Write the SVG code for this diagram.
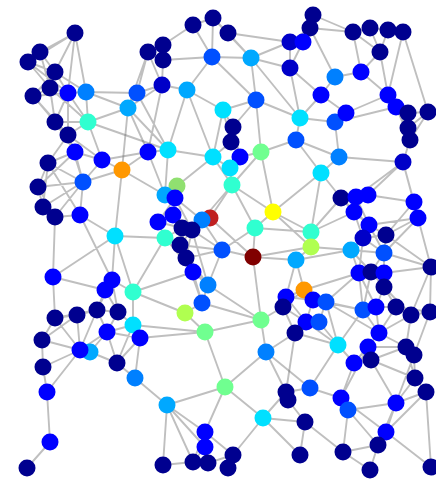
<svg xmlns="http://www.w3.org/2000/svg" width="436" height="482" viewBox="0 0 436 482">
<style>
.e{fill:none;stroke:#666666;stroke-opacity:0.42;stroke-width:1.9;stroke-linecap:round}
circle{r:8.5}
.k0{fill:#00008f}.k1{fill:#0000c8}.k2{fill:#0000ff}.k3{fill:#0050ff}.k4{fill:#0080ff}.k5{fill:#00a8ff}.k6{fill:#00e0ff}.k7{fill:#30ffd0}.k8{fill:#70ff90}.k9{fill:#b0ff50}.ky{fill:#ffff00}.ko{fill:#ff9800}.kr{fill:#800000}.kx{fill:#c02020}.kg{fill:#90e070}
</style>
<rect width="436" height="482" fill="#ffffff"/>
<g id="connectors" class="e">
<path d="M75 33L40 52M75 33L55 72M75 33L68 93M75 33L86 92M40 52L28 62M40 52L55 72M28 62L55 72M28 62L50 88M55 72L50 88M55 72L68 93M50 88L33 96M50 88L68 93M33 96L68 93M68 93L86 92M33 96L55 122M50 88L55 122M68 93L55 122M86 92L88 122M68 93L88 122M55 122L68 135M88 122L68 135M55 122L88 122M68 135L75 152M68 135L48 163M75 152L48 163M75 152L102 160M88 122L102 160M86 92L137 93M86 92L128 108M88 122L128 108M88 122L168 150M75 152L83 182M48 163L38 187M48 163L83 182M38 187L43 207M43 207L55 217M55 217L80 215M83 182L80 215M38 187L83 182M43 207L83 182M80 215L115 236M102 160L122 170M122 170L83 182M122 170L115 236M102 160L83 182M122 170L165 195M122 170L148 152M102 160L148 152M68 135L102 160M55 72L86 92M55 217L53 277M80 215L112 280M115 236L53 277M115 236L133 292M115 236L165 238M115 236L112 280M165 238L133 292M165 238L193 272M40 52L50 88M28 62L68 93M55 72L33 96M33 96L68 135M50 88L88 122M55 122L75 152M68 135L83 182M48 163L43 207M38 187L55 217M48 163L80 215M55 217L83 182M75 152L38 187M68 93L68 135M75 33L28 62"/>
<path d="M128 108L137 93M137 93L162 85M137 93L148 52M148 52L163 45M163 45L163 60M148 52L163 60M163 60L162 85M162 85L187 90M163 45L193 25M193 25L213 18M213 18L228 33M193 25L212 57M213 18L212 57M187 90L212 57M163 60L212 57M162 85L128 108M128 108L148 152M128 108L168 150M128 108L122 170M137 93L168 150M187 90L168 150M187 90L223 110M187 90L213 157M162 85L148 152M212 57L251 58M228 33L251 58M251 58L290 42M251 58L256 100M251 58L290 68M212 57L256 100M256 100L223 110M223 110L233 127M233 127L231 142M231 142L240 157M223 110L213 157M213 157L231 142M256 100L300 118M256 100L233 127M256 100L261 152M300 118L296 140M296 140L261 152M261 152L240 157M290 68L300 118M290 68L321 95M290 42L303 42M303 42L313 15M310 28L313 15M310 28L290 42M303 42L290 68M313 15L353 32M310 28L353 32M353 32L370 28M370 28L388 30M388 30L403 32M370 28L380 52M388 30L380 52M380 52L361 72M353 32L361 72M361 72L335 77M335 77L321 95M310 28L335 77M321 95L300 118M321 95L346 113M346 113L335 122M335 122L300 118M335 122L339 157M339 157L321 173M296 140L339 157M296 140L321 173M361 72L388 95M388 95L396 107M396 107L408 113M408 113L428 112M408 113L408 128M408 128L410 140M410 140L403 162M346 113L388 95M335 122L396 107M403 32L428 112M380 52L388 95M403 32L388 95M251 58L300 118M228 33L290 42M213 18L251 58M148 52L128 108M353 32L380 52M370 28L403 32M396 107L408 128M408 128L428 112M396 107L410 140M410 140L428 112M233 127L240 157M223 110L231 142M290 42L290 68M163 45L148 52M148 52L162 85"/>
<path d="M168 150L213 157M148 152L168 150M168 150L165 195M213 157L232 185M213 157L230 168M240 157L230 168M230 168L232 185M232 185L255 228M232 185L273 212M261 152L273 212M261 152L232 185M273 212L255 228M273 212L321 173M273 212L311 232M255 228L253 257M253 257L222 250M253 257L296 260M253 257L311 247M255 228L222 250M222 250L202 220M202 220L210 218M202 220L192 230M177 186L165 195M177 186L213 157M165 195L175 198M175 198L173 215M173 215L158 222M158 222L165 238M173 215L182 228M182 228L192 230M192 230L180 245M180 245L165 238M180 245L186 258M186 258L193 272M193 272L208 285M208 285L202 303M202 303L185 313M222 250L208 285M232 185L202 220M210 218L253 257M321 173L341 198M321 173L311 232M311 232L311 247M311 247L296 260M296 260L304 290M311 247L351 250M296 260L286 297M253 257L261 320M185 313L205 332M185 313L133 292M202 303L261 320M208 285L261 320M133 292L112 280M133 292L133 325M193 272L133 292M182 228L202 220M192 230L222 250M175 198L202 220M186 258L208 285M180 245L222 250M210 218L232 185M158 222L182 228M148 152L165 195M182 228L186 258M192 230L186 258M180 245L193 272M175 198L192 230M173 215L192 230M182 228L180 245M192 230L208 285M186 258L222 250M165 238L182 228M158 222L175 198M186 258L202 303M193 272L202 303M192 230L210 218M180 245L208 285M182 228L210 218M222 250L255 228M255 228L311 232M273 212L311 247"/>
<path d="M53 277L55 318M53 277L105 290M112 280L105 290M105 290L97 310M97 310L77 315M77 315L55 318M55 318L42 340M42 340L43 367M77 315L80 350M97 310L80 350M118 312L107 332M118 312L97 310M107 332L117 363M107 332L133 325M133 325L140 338M140 338L117 363M117 363L135 378M135 378L140 338M135 378L167 405M80 350L43 367M90 352L117 363M43 367L47 392M47 392L50 442M50 442L27 468M133 325L205 332M140 338L205 332M167 405L225 387M167 405L163 465M167 405L205 432M167 405L193 462M205 432L205 447M205 447L193 462M205 447L208 463M163 465L193 462M205 332L225 387M225 387L263 418M225 387L205 432M263 418L233 455M233 455L228 468M263 418L305 422M263 418L286 392M263 418L300 455M266 352L225 387M266 352L261 320M261 320L205 332M266 352L295 333M266 352L310 388M266 352L286 392M205 432L233 455M55 318L80 350M42 340L77 315M97 310L107 332M118 312L133 325M105 290L118 312M112 280L118 312M90 352L107 332M80 350L90 352M117 363L90 352M47 392L80 350M167 405L205 447M208 463L233 455M97 310L118 312M77 315L97 310M55 318L97 310M112 280L97 310M107 332L140 338M80 350L107 332M42 340L80 350M117 363L133 325M205 432L193 462M193 462L208 463M205 432L208 463"/>
<path d="M341 198L356 197M356 197L368 195M341 198L354 212M356 197L354 212M354 212L369 225M369 225L363 238M363 238L386 235M369 225L386 235M368 195L403 162M403 162L414 202M414 202L418 218M418 218L386 235M386 235L384 253M363 238L351 250M351 250L384 253M384 253L431 267M351 250L359 273M359 273L371 272M371 272L384 273M384 273L384 287M384 287L376 307M376 307L363 310M363 310L359 273M376 307L396 307M396 307L411 315M411 315L430 312M396 307L379 333M379 333L368 347M368 347L354 363M354 363L371 360M371 360L368 347M406 347L414 355M406 347L379 333M414 355L415 378M415 378L426 392M415 378L396 403M396 403L386 432M386 432L378 445M378 445L343 452M378 445L370 470M386 432L431 467M341 398L348 410M348 410L343 452M341 398L354 363M310 388L341 398M310 388L286 392M286 392L288 400M288 400L305 422M305 422L300 455M343 452L370 470M304 290L313 300M313 300L326 302M304 290L286 297M286 297L283 307M283 307L306 322M306 322L319 322M319 322L326 302M319 322L338 345M338 345L354 363M295 333L306 322M295 333L338 345M283 307L261 320M326 302L363 310M338 345L310 388M304 290L359 273M296 260L351 250M311 232L354 212M339 157L403 162M341 198L311 232M386 235L431 267M418 218L431 267M431 267L430 312M431 267L411 315M396 403L426 392M305 422L343 452M295 333L286 392M371 272L363 310M384 287L396 307M363 310L379 333M359 273L326 302M368 195L414 202M363 238L384 253M384 253L371 272M384 273L431 267M411 315L406 347M430 312L414 355M376 307L379 333M371 360L406 347M354 363L341 398M348 410L396 403M371 360L396 403M396 403L378 445M426 392L431 467M341 198L369 225M356 197L403 162M363 310L338 345M326 302L338 345M313 300L306 322M286 297L313 300M304 290L326 302M354 212L363 238M369 225L384 253M386 235L414 202M363 238L359 273M351 250L371 272M384 253L384 273M371 272L384 287M359 273L376 307M384 287L411 315M396 307L430 312M411 315L379 333M379 333L354 363M368 347L406 347M406 347L415 378M414 355L396 403M368 347L341 398M371 360L415 378M386 432L396 403M348 410L378 445M341 398L386 432M426 392L386 432M319 322L295 333M306 322L338 345M326 302L379 333M313 300L363 310M283 307L295 333M286 297L306 322M304 290L283 307M369 225L418 218M418 218L384 253M403 162L418 218M356 197L369 225"/>
</g>
<g id="n1"><circle class="k0" cx="75" cy="33"/></g>
<g id="n2"><circle class="k0" cx="40" cy="52"/></g>
<g id="n3"><circle class="k0" cx="28" cy="62"/></g>
<g id="n4"><circle class="k0" cx="55" cy="72"/></g>
<g id="n5"><circle class="k0" cx="50" cy="88"/></g>
<g id="n6"><circle class="k0" cx="33" cy="96"/></g>
<g id="n7"><circle class="k2" cx="68" cy="93"/></g>
<g id="n8"><circle class="k4" cx="86" cy="92"/></g>
<g id="n9"><circle class="k7" cx="88" cy="122"/></g>
<g id="n10"><circle class="k0" cx="55" cy="122"/></g>
<g id="n11"><circle class="k0" cx="68" cy="135"/></g>
<g id="n12"><circle class="k2" cx="75" cy="152"/></g>
<g id="n13"><circle class="k0" cx="48" cy="163"/></g>
<g id="n14"><circle class="k2" cx="102" cy="160"/></g>
<g id="n15"><circle class="ko" cx="122" cy="170"/></g>
<g id="n16"><circle class="k3" cx="83" cy="182"/></g>
<g id="n17"><circle class="k0" cx="38" cy="187"/></g>
<g id="n18"><circle class="k0" cx="43" cy="207"/></g>
<g id="n19"><circle class="k0" cx="55" cy="217"/></g>
<g id="n20"><circle class="k2" cx="80" cy="215"/></g>
<g id="n21"><circle class="k6" cx="115" cy="236"/></g>
<g id="n22"><circle class="k3" cx="137" cy="93"/></g>
<g id="n23"><circle class="k5" cx="128" cy="108"/></g>
<g id="n24"><circle class="k0" cx="148" cy="52"/></g>
<g id="n25"><circle class="k0" cx="163" cy="45"/></g>
<g id="n26"><circle class="k0" cx="163" cy="60"/></g>
<g id="n27"><circle class="k1" cx="162" cy="85"/></g>
<g id="n28"><circle class="k5" cx="187" cy="90"/></g>
<g id="n29"><circle class="k0" cx="193" cy="25"/></g>
<g id="n30"><circle class="k0" cx="213" cy="18"/></g>
<g id="n31"><circle class="k3" cx="212" cy="57"/></g>
<g id="n32"><circle class="k2" cx="148" cy="152"/></g>
<g id="n33"><circle class="k6" cx="168" cy="150"/></g>
<g id="n34"><circle class="k6" cx="213" cy="157"/></g>
<g id="n35"><circle class="k0" cx="228" cy="33"/></g>
<g id="n36"><circle class="k5" cx="251" cy="58"/></g>
<g id="n37"><circle class="k0" cx="313" cy="15"/></g>
<g id="n38"><circle class="k0" cx="310" cy="28"/></g>
<g id="n39"><circle class="k1" cx="290" cy="42"/></g>
<g id="n40"><circle class="k2" cx="303" cy="42"/></g>
<g id="n41"><circle class="k1" cx="290" cy="68"/></g>
<g id="n42"><circle class="k0" cx="353" cy="32"/></g>
<g id="n43"><circle class="k0" cx="370" cy="28"/></g>
<g id="n44"><circle class="k0" cx="388" cy="30"/></g>
<g id="n45"><circle class="k0" cx="403" cy="32"/></g>
<g id="n46"><circle class="k0" cx="380" cy="52"/></g>
<g id="n47"><circle class="k2" cx="361" cy="72"/></g>
<g id="n48"><circle class="k4" cx="335" cy="77"/></g>
<g id="n49"><circle class="k2" cx="321" cy="95"/></g>
<g id="n50"><circle class="k3" cx="256" cy="100"/></g>
<g id="n51"><circle class="k6" cx="223" cy="110"/></g>
<g id="n52"><circle class="k0" cx="233" cy="127"/></g>
<g id="n53"><circle class="k0" cx="231" cy="142"/></g>
<g id="n54"><circle class="k2" cx="240" cy="157"/></g>
<g id="n55"><circle class="k6" cx="300" cy="118"/></g>
<g id="n56"><circle class="k3" cx="296" cy="140"/></g>
<g id="n57"><circle class="k8" cx="261" cy="152"/></g>
<g id="n58"><circle class="k3" cx="335" cy="122"/></g>
<g id="n59"><circle class="k2" cx="346" cy="113"/></g>
<g id="n60"><circle class="k4" cx="339" cy="157"/></g>
<g id="n61"><circle class="k2" cx="388" cy="95"/></g>
<g id="n62"><circle class="k2" cx="396" cy="107"/></g>
<g id="n63"><circle class="k0" cx="408" cy="113"/></g>
<g id="n64"><circle class="k0" cx="428" cy="112"/></g>
<g id="n65"><circle class="k0" cx="408" cy="128"/></g>
<g id="n66"><circle class="k0" cx="410" cy="140"/></g>
<g id="n67"><circle class="k1" cx="403" cy="162"/></g>
<g id="n68"><circle class="kg" cx="177" cy="186"/></g>
<g id="n69"><circle class="k5" cx="165" cy="195"/></g>
<g id="n70"><circle class="k2" cx="175" cy="198"/></g>
<g id="n71"><circle class="k7" cx="232" cy="185"/></g>
<g id="n72"><circle class="k6" cx="230" cy="168"/></g>
<g id="n73"><circle class="k2" cx="158" cy="222"/></g>
<g id="n74"><circle class="k2" cx="173" cy="215"/></g>
<g id="n75"><circle class="kx" cx="210" cy="218"/></g>
<g id="n76"><circle class="k4" cx="202" cy="220"/></g>
<g id="n77"><circle class="k0" cx="182" cy="228"/></g>
<g id="n78"><circle class="k0" cx="192" cy="230"/></g>
<g id="n79"><circle class="k7" cx="165" cy="238"/></g>
<g id="n80"><circle class="k0" cx="180" cy="245"/></g>
<g id="n81"><circle class="k3" cx="222" cy="250"/></g>
<g id="n82"><circle class="k7" cx="255" cy="228"/></g>
<g id="n83"><circle class="ky" cx="273" cy="212"/></g>
<g id="n84"><circle class="kr" cx="253" cy="257"/></g>
<g id="n85"><circle class="k6" cx="321" cy="173"/></g>
<g id="n86"><circle class="k0" cx="186" cy="258"/></g>
<g id="n87"><circle class="k2" cx="193" cy="272"/></g>
<g id="n88"><circle class="k4" cx="208" cy="285"/></g>
<g id="n89"><circle class="k3" cx="202" cy="303"/></g>
<g id="n90"><circle class="k9" cx="185" cy="313"/></g>
<g id="n91"><circle class="k2" cx="53" cy="277"/></g>
<g id="n92"><circle class="k2" cx="112" cy="280"/></g>
<g id="n93"><circle class="k2" cx="105" cy="290"/></g>
<g id="n94"><circle class="k7" cx="133" cy="292"/></g>
<g id="n95"><circle class="k0" cx="55" cy="318"/></g>
<g id="n96"><circle class="k0" cx="77" cy="315"/></g>
<g id="n97"><circle class="k0" cx="97" cy="310"/></g>
<g id="n98"><circle class="k0" cx="118" cy="312"/></g>
<g id="n99"><circle class="k2" cx="107" cy="332"/></g>
<g id="n100"><circle class="k6" cx="133" cy="325"/></g>
<g id="n101"><circle class="k2" cx="140" cy="338"/></g>
<g id="n102"><circle class="k0" cx="42" cy="340"/></g>
<g id="n103"><circle class="k5" cx="90" cy="352"/></g>
<g id="n104"><circle class="k2" cx="80" cy="350"/></g>
<g id="n105"><circle class="k0" cx="117" cy="363"/></g>
<g id="n106"><circle class="k0" cx="43" cy="367"/></g>
<g id="n107"><circle class="k2" cx="47" cy="392"/></g>
<g id="n108"><circle class="k4" cx="135" cy="378"/></g>
<g id="n109"><circle class="k5" cx="167" cy="405"/></g>
<g id="n110"><circle class="k2" cx="50" cy="442"/></g>
<g id="n111"><circle class="k0" cx="27" cy="468"/></g>
<g id="n112"><circle class="k0" cx="163" cy="465"/></g>
<g id="n113"><circle class="k2" cx="205" cy="432"/></g>
<g id="n114"><circle class="k2" cx="205" cy="447"/></g>
<g id="n115"><circle class="k0" cx="193" cy="462"/></g>
<g id="n116"><circle class="k0" cx="208" cy="463"/></g>
<g id="n117"><circle class="k8" cx="205" cy="332"/></g>
<g id="n118"><circle class="k8" cx="225" cy="387"/></g>
<g id="n119"><circle class="k8" cx="261" cy="320"/></g>
<g id="n120"><circle class="k4" cx="266" cy="352"/></g>
<g id="n121"><circle class="k6" cx="263" cy="418"/></g>
<g id="n122"><circle class="k0" cx="233" cy="455"/></g>
<g id="n123"><circle class="k0" cx="228" cy="468"/></g>
<g id="n124"><circle class="k0" cx="341" cy="198"/></g>
<g id="n125"><circle class="k2" cx="356" cy="197"/></g>
<g id="n126"><circle class="k2" cx="368" cy="195"/></g>
<g id="n127"><circle class="k2" cx="354" cy="212"/></g>
<g id="n128"><circle class="k2" cx="369" cy="225"/></g>
<g id="n129"><circle class="k1" cx="363" cy="238"/></g>
<g id="n130"><circle class="k0" cx="386" cy="235"/></g>
<g id="n131"><circle class="k7" cx="311" cy="232"/></g>
<g id="n132"><circle class="k9" cx="311" cy="247"/></g>
<g id="n133"><circle class="k5" cx="296" cy="260"/></g>
<g id="n134"><circle class="k5" cx="351" cy="250"/></g>
<g id="n135"><circle class="k3" cx="384" cy="253"/></g>
<g id="n136"><circle class="k2" cx="414" cy="202"/></g>
<g id="n137"><circle class="k2" cx="418" cy="218"/></g>
<g id="n138"><circle class="k0" cx="431" cy="267"/></g>
<g id="n139"><circle class="k2" cx="359" cy="273"/></g>
<g id="n140"><circle class="k0" cx="371" cy="272"/></g>
<g id="n141"><circle class="k2" cx="384" cy="273"/></g>
<g id="n142"><circle class="k0" cx="384" cy="287"/></g>
<g id="n143"><circle class="ko" cx="304" cy="290"/></g>
<g id="n144"><circle class="k2" cx="313" cy="300"/></g>
<g id="n145"><circle class="k3" cx="326" cy="302"/></g>
<g id="n146"><circle class="k2" cx="286" cy="297"/></g>
<g id="n147"><circle class="k0" cx="283" cy="307"/></g>
<g id="n148"><circle class="k3" cx="363" cy="310"/></g>
<g id="n149"><circle class="k2" cx="376" cy="307"/></g>
<g id="n150"><circle class="k0" cx="396" cy="307"/></g>
<g id="n151"><circle class="k0" cx="411" cy="315"/></g>
<g id="n152"><circle class="k0" cx="430" cy="312"/></g>
<g id="n153"><circle class="k2" cx="306" cy="322"/></g>
<g id="n154"><circle class="k3" cx="319" cy="322"/></g>
<g id="n155"><circle class="k0" cx="295" cy="333"/></g>
<g id="n156"><circle class="k2" cx="379" cy="333"/></g>
<g id="n157"><circle class="k2" cx="368" cy="347"/></g>
<g id="n158"><circle class="k6" cx="338" cy="345"/></g>
<g id="n159"><circle class="k0" cx="406" cy="347"/></g>
<g id="n160"><circle class="k0" cx="414" cy="355"/></g>
<g id="n161"><circle class="k2" cx="354" cy="363"/></g>
<g id="n162"><circle class="k0" cx="371" cy="360"/></g>
<g id="n163"><circle class="k0" cx="415" cy="378"/></g>
<g id="n164"><circle class="k0" cx="426" cy="392"/></g>
<g id="n165"><circle class="k3" cx="310" cy="388"/></g>
<g id="n166"><circle class="k0" cx="286" cy="392"/></g>
<g id="n167"><circle class="k0" cx="288" cy="400"/></g>
<g id="n168"><circle class="k2" cx="341" cy="398"/></g>
<g id="n169"><circle class="k3" cx="348" cy="410"/></g>
<g id="n170"><circle class="k0" cx="305" cy="422"/></g>
<g id="n171"><circle class="k2" cx="396" cy="403"/></g>
<g id="n172"><circle class="k2" cx="386" cy="432"/></g>
<g id="n173"><circle class="k0" cx="378" cy="445"/></g>
<g id="n174"><circle class="k0" cx="300" cy="455"/></g>
<g id="n175"><circle class="k0" cx="343" cy="452"/></g>
<g id="n176"><circle class="k0" cx="370" cy="470"/></g>
<g id="n177"><circle class="k0" cx="431" cy="467"/></g>
</svg>
